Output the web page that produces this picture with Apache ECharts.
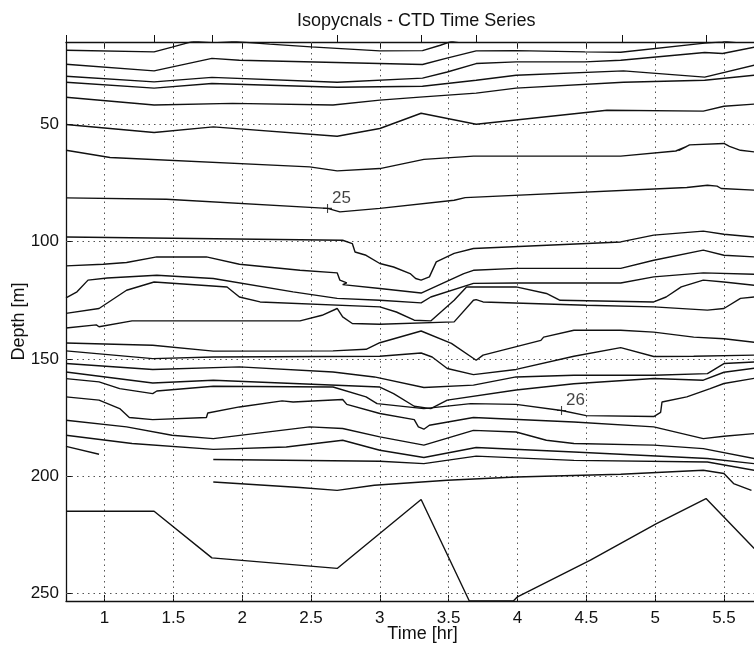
<!DOCTYPE html>
<html>
<head>
<meta charset="utf-8">
<title>Isopycnals - CTD Time Series</title>
<script src="https://cdn.jsdelivr.net/npm/echarts@6/dist/echarts.min.js"></script>
<style>
  html, body { margin: 0; padding: 0; background: #fff; }
  #chart { width: 754px; height: 648px; }
</style>
</head>
<body>
<div id="chart"></div>
<script>
// Axis ticks
const xTicks = [1, 1.5, 2, 2.5, 3, 3.5, 4, 4.5, 5, 5.5];
const yTicks = [50, 100, 150, 200, 250];
// Times of the individual CTD casts (marked above the top axis)
const castTimes = [0.72, 1.36, 1.78, 2.69, 3.30, 3.70, 4.76, 5.37];

// Isopycnal depths: [time (hr), depth (m)], shallowest first
const iso01 = [[0.72,18.3],[1.36,19.0],[1.49,17.0],[1.63,14.75],[1.80,14.0],[1.98,14.75],[2.20,15.7],[2.50,16.9],[3.0,18.6],[3.31,18.5],[3.44,16.2],[3.51,14.75],[3.58,14.0]];
const iso02 = [[0.72,24.3],[1.36,27.1],[1.78,21.8],[1.98,22.6],[3.31,24.4],[3.48,21.8],[3.70,18.6],[3.99,18.5],[4.49,19.0],[4.75,19.15],[5.36,15.3],[5.49,14.75],[5.6,14.0]];
const iso03 = [[0.72,29.4],[1.36,31.8],[1.78,29.9],[2.69,32.0],[3.31,30.2],[3.49,27.6],[3.70,24.0],[3.99,23.3],[4.49,23.3],[4.75,22.6],[5.36,19.3],[5.49,19.7],[5.72,17.0]];
const iso04 = [[0.72,32.0],[1.36,34.5],[1.78,32.5],[2.69,34.1],[3.31,33.7],[3.70,31.1],[3.99,29.0],[4.77,27.1],[5.36,29.8],[5.72,24.7]];
const iso05 = [[0.72,38.4],[1.36,41.7],[1.93,41.0],[2.66,41.7],[3.0,39.6],[3.29,38.3],[3.70,36.6],[3.99,34.5],[4.77,32.0],[5.36,31.1],[5.72,29.0]];
const iso06 = [[0.72,50.0],[1.36,53.4],[1.79,51.0],[2.69,55.0],[3.0,51.7],[3.30,45.2],[3.70,49.9],[4.65,43.9],[5.35,44.3],[5.50,42.2],[5.72,41.3]];
const iso07 = [[0.72,61.0],[1.04,64.1],[2.49,68.1],[2.69,69.8],[3.0,68.8],[3.32,64.9],[3.68,63.5],[4.75,63.5],[5.15,61.3],[5.23,59.3],[5.17,61.2],[5.25,58.7],[5.50,58.1],[5.54,59.3],[5.62,61.0],[5.72,61.7]];
const iso08 = [[0.72,81.3],[1.45,81.9],[2.62,85.8],[2.71,87.3],[3.0,85.8],[3.54,82.3],[3.62,81.2],[5.23,76.9],[5.38,75.9],[5.45,76.3],[5.48,77.3],[5.72,78.0]];
const iso09 = [[0.72,98.0],[2.73,99.4],[2.80,100.8],[2.82,104.4],[2.90,105.8],[3.0,109.3],[3.10,110.8],[3.22,113.6],[3.26,115.7],[3.30,116.4],[3.36,115.0],[3.41,108.6],[3.54,105.0],[3.68,102.9],[4.75,100.1],[4.99,97.2],[5.35,95.5],[5.50,96.8],[5.72,98.0]];
const iso10 = [[0.72,110.3],[0.99,109.6],[1.16,108.9],[1.38,106.5],[1.74,106.5],[1.98,109.6],[2.42,112.2],[2.69,113.3],[2.71,116.4],[2.76,117.6],[2.73,118.3],[3.0,120.0],[3.30,121.9],[3.61,113.6],[3.68,112.2],[3.99,111.4],[4.75,111.4],[4.99,107.9],[5.35,103.6],[5.50,105.8],[5.72,106.5]];
const iso11 = [[0.72,124.0],[0.80,121.4],[0.88,116.4],[1.02,115.5],[1.38,114.3],[1.79,115.7],[2.37,121.4],[2.69,124.2],[3.0,125.0],[3.30,126.1],[3.37,123.6],[3.68,117.8],[3.99,117.6],[4.75,117.6],[4.99,115.0],[5.35,113.3],[5.72,113.9]];
const iso12 = [[0.72,130.6],[0.96,128.5],[1.16,120.7],[1.36,117.2],[1.89,119.3],[1.98,123.6],[2.13,125.7],[3.0,127.8],[3.12,130.0],[3.25,133.5],[3.37,133.8],[3.54,125.0],[3.63,119.3],[3.99,119.3],[4.21,122.1],[4.31,125.0],[4.99,125.7],[5.08,123.6],[5.19,119.3],[5.35,116.4],[5.50,117.2],[5.72,118.6]];
const iso13 = [[0.72,136.8],[0.94,135.5],[0.96,136.3],[1.20,133.8],[2.42,133.8],[2.58,131.4],[2.69,128.5],[2.73,132.1],[2.80,134.9],[3.0,135.2],[3.54,134.2],[3.68,125.0],[3.70,124.7],[3.75,125.7],[4.50,127.1],[4.99,127.8],[5.38,129.2],[5.50,128.5],[5.62,124.2],[5.72,123.6]];
const iso14 = [[0.72,143.2],[1.35,144.2],[1.79,146.7],[2.66,146.6],[2.90,145.9],[3.0,143.1],[3.30,138.1],[3.52,143.4],[3.70,150.6],[3.75,148.4],[4.17,142.1],[4.19,140.7],[4.41,137.8],[4.75,137.8],[4.99,138.6],[5.28,140.7],[5.50,141.4],[5.72,142.9]];
const iso15 = [[0.72,146.6],[1.35,149.9],[1.79,149.2],[3.0,148.9],[3.30,147.5],[3.38,149.2],[3.49,154.1],[3.68,156.7],[3.99,154.5],[4.41,148.9],[4.75,145.2],[4.99,149.0],[5.28,148.9],[5.72,148.4]];
const iso16 = [[0.72,152.0],[1.35,154.5],[1.98,153.4],[2.66,155.6],[2.96,157.7],[3.32,162.2],[3.68,161.2],[3.99,157.7],[4.41,157.0],[4.99,157.0],[5.38,156.3],[5.50,152.0],[5.72,151.3]];
const iso17 = [[0.72,155.6],[1.35,160.3],[1.79,159.1],[3.0,162.0],[3.10,164.8],[3.25,170.2],[3.37,171.2],[3.49,167.6],[3.99,163.3],[4.41,160.6],[4.99,158.4],[5.35,159.1],[5.50,155.7],[5.72,154.0]];
const iso18 = [[0.72,158.4],[0.96,159.8],[1.11,162.7],[1.35,164.8],[1.38,163.7],[1.79,161.7],[2.66,162.0],[2.90,166.2],[2.98,169.1],[3.32,171.2],[3.66,169.1],[3.99,169.4],[4.32,172.0],[4.50,174.2],[4.99,174.6],[5.04,172.8],[5.05,168.4],[5.23,166.2],[5.40,162.7],[5.50,160.5],[5.72,158.3]];
const iso19 = [[0.72,166.2],[0.96,167.6],[1.11,171.2],[1.18,175.0],[1.35,175.9],[1.74,175.0],[1.75,173.1],[1.98,170.5],[2.29,167.9],[2.37,168.4],[2.73,167.3],[2.76,169.4],[3.0,173.3],[3.25,175.9],[3.28,179.0],[3.32,180.0],[3.36,178.3],[3.68,175.0],[4.41,176.9],[4.99,179.0],[5.35,184.0],[5.50,183.0],[5.72,181.9]];
const iso20 = [[0.72,176.2],[1.16,179.0],[1.49,182.6],[1.79,184.0],[2.49,179.0],[2.73,179.7],[3.0,183.3],[3.32,186.8],[3.68,180.5],[3.99,181.2],[4.21,184.7],[4.41,186.1],[4.99,186.8],[5.35,188.3],[5.72,192.5]];
const iso21 = [[0.72,182.6],[1.20,186.1],[1.79,188.6],[2.32,187.6],[2.73,184.7],[3.0,189.0],[3.32,192.1],[3.70,187.8],[4.41,189.7],[5.38,192.5],[5.72,194.7]];
const iso22 = [[0.72,187.3],[0.96,190.7]];
const iso23 = [[1.79,192.9],[3.0,193.7],[3.32,194.7],[3.70,191.5],[4.41,193.3],[5.38,194.0],[5.72,197.5]];
const iso24 = [[1.79,202.5],[2.42,204.9],[2.69,206.1],[2.96,203.9],[3.49,201.8],[3.99,200.4],[4.75,199.2],[5.35,197.5],[5.50,198.9],[5.57,203.2],[5.70,206.1]];

// Depth of the CTD cast bottoms over time
const ctdTrack = [[0.72,215.0],[1.36,215.0],[1.78,234.9],[2.69,239.4],[3.30,210.0],[3.65,253.3],[3.97,253.3],[4.0,251.5],[4.53,235.9],[5.01,220.3],[5.37,209.6],[5.72,230.9]];

// Contour value labels (sigma-t) and where they sit on their isopycnal
const labelValues = ['25', '26'];
const labelTimes = [2.62, 4.32];
const labelDepths = [85.8, 172.0];

const isopycnals = [iso01, iso02, iso03, iso04, iso05, iso06, iso07, iso08, iso09, iso10, iso11, iso12,
  iso13, iso14, iso15, iso16, iso17, iso18, iso19, iso20, iso21, iso22, iso23, iso24];

const FONT = '"Liberation Sans", Arial, Helvetica, sans-serif';
const INK = '#111';

const lineStyle = { color: INK, width: 1.4 };

const series = isopycnals.map((pts, i) => ({
  name: 'isopycnal ' + (i + 1),
  type: 'line',
  data: pts,
  showSymbol: false,
  symbol: 'none',
  clip: true,
  lineStyle: lineStyle,
  silent: true,
  z: 3
}));

series.push({
  name: 'CTD depth',
  type: 'line',
  data: ctdTrack,
  symbol: 'none',
  clip: true,
  lineStyle: lineStyle,
  silent: true,
  z: 3,
  markLine: {
    silent: true,
    symbol: ['none', 'none'],
    label: { show: false },
    lineStyle: { type: [1.5, 4], color: '#555', width: 1 },
    data: xTicks.map(v => ({ xAxis: v })).concat(yTicks.map(v => ({ yAxis: v }))),
    z: 1
  }
});

series.push({
  name: 'contour labels',
  type: 'scatter',
  data: labelTimes.map((t, i) => ({ value: [t, labelDepths[i]], name: labelValues[i] })),
  symbol: 'path://M0,4.4H10V5.6H0Z M4.4,0H5.6V10H4.4Z',
  symbolSize: 9,
  itemStyle: { color: INK },
  label: {
    show: true,
    formatter: p => p.name,
    position: [9, -14],
    color: INK,
    fontFamily: FONT,
    fontSize: 17
  },
  silent: true,
  z: 4
});

const chart = echarts.init(document.getElementById('chart'), null, { renderer: 'canvas' });
chart.setOption({
  animation: false,
  backgroundColor: '#fff',
  title: {
    text: 'Isopycnals - CTD Time Series',
    left: 292,
    top: 7,
    textStyle: { fontFamily: FONT, fontSize: 18, fontWeight: 'normal', color: INK }
  },
  grid: { left: 66, top: 42, bottom: 47, right: -25, containLabel: false, outerBoundsMode: 'none' },
  xAxis: [
    {
      type: 'value', position: 'bottom', min: 0.72, max: 5.9,
      name: 'Time [hr]', nameLocation: 'middle', nameGap: 24, nameMoveOverlap: false,
      nameTextStyle: { fontFamily: FONT, fontSize: 18, color: INK },
      axisLine: { show: true, onZero: false, lineStyle: { color: INK, width: 1.3 } },
      axisTick: { show: true, inside: true, length: 6, customValues: xTicks, lineStyle: { color: INK } },
      axisLabel: { show: true, customValues: xTicks, margin: 9, fontFamily: FONT, fontSize: 17, color: INK },
      splitLine: { show: false }
    },
    {
      type: 'value', position: 'top', min: 0.72, max: 5.9,
      axisLine: { show: true, onZero: false, lineStyle: { color: INK, width: 1.3 } },
      axisTick: { show: true, inside: true, length: 6, customValues: xTicks, lineStyle: { color: INK } },
      axisLabel: { show: false },
      splitLine: { show: false }
    },
    {
      type: 'value', position: 'top', min: 0.72, max: 5.9,
      axisLine: { show: false },
      axisTick: { show: true, inside: false, length: 7, customValues: castTimes, lineStyle: { color: INK } },
      axisLabel: { show: false },
      splitLine: { show: false }
    }
  ],
  yAxis: {
    type: 'value', inverse: true, min: 14.8, max: 253.3,
    name: 'Depth [m]', nameLocation: 'middle', nameGap: 38, nameMoveOverlap: false,
    nameTextStyle: { fontFamily: FONT, fontSize: 18, color: INK },
    axisLine: { show: true, onZero: false, lineStyle: { color: INK, width: 1.3 } },
    axisTick: { show: true, inside: true, length: 6, customValues: yTicks, lineStyle: { color: INK } },
    axisLabel: { show: true, customValues: yTicks, margin: 7, fontFamily: FONT, fontSize: 17, color: INK },
    splitLine: { show: false }
  },
  series: series
});
</script>
</body>
</html>
